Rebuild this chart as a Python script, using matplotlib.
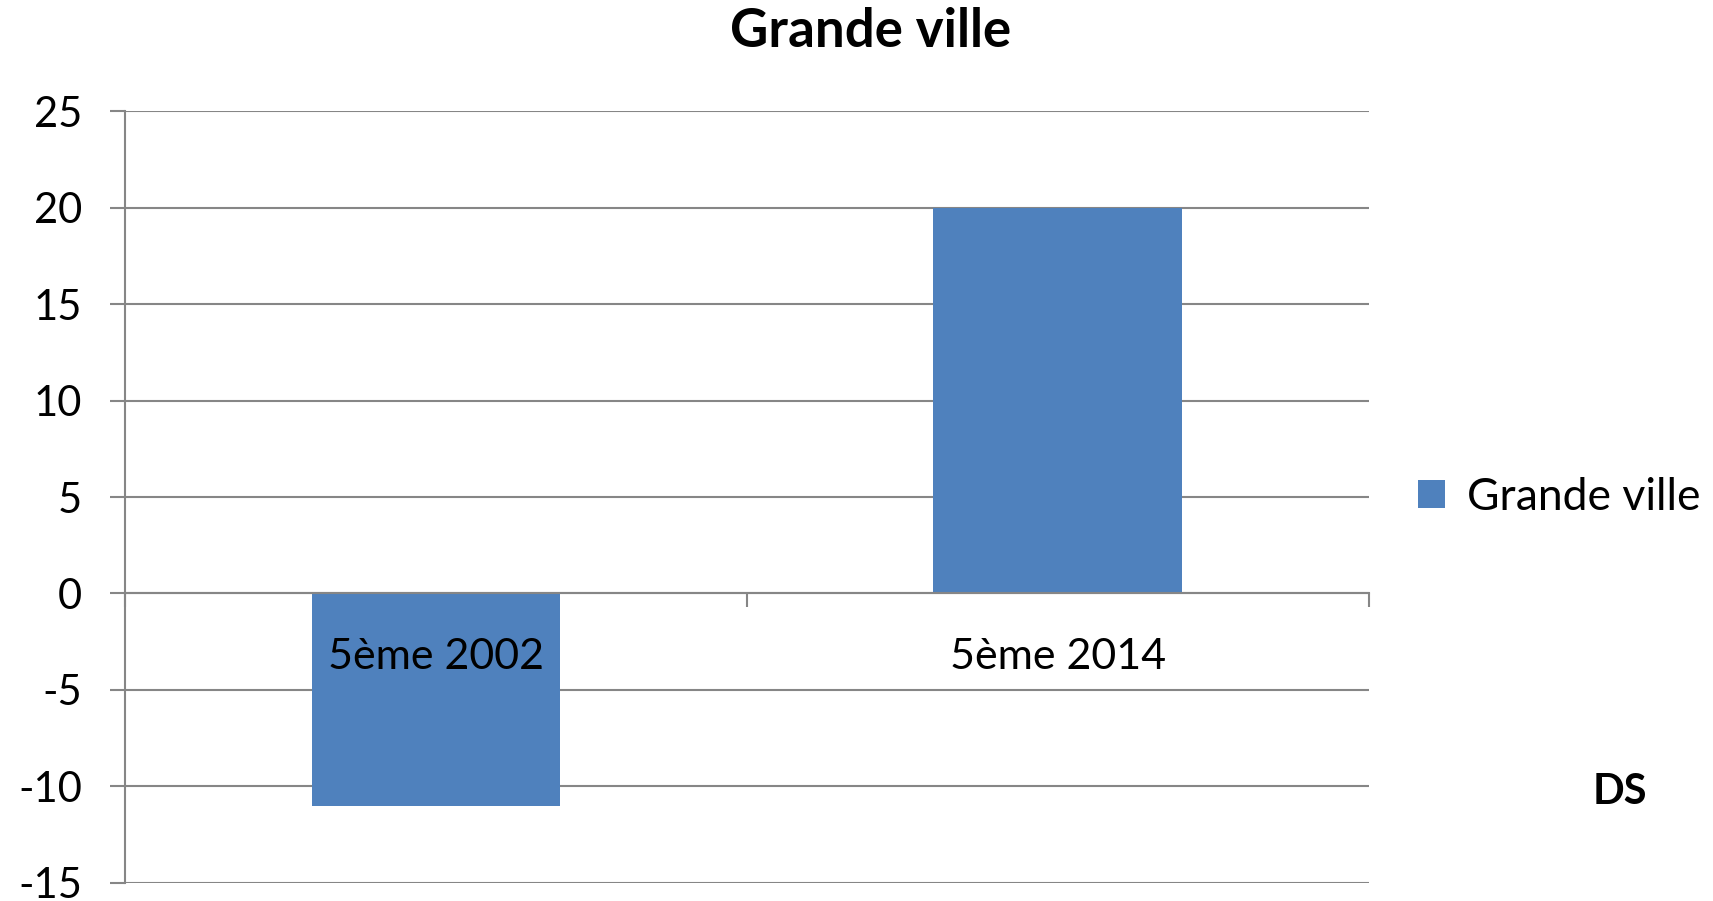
import numpy as np
import matplotlib.pyplot as plt

categories = ['5ème 2002', '5ème 2014']
values = [-11, 20]
series_name = 'Grande ville'
yticks = [-15, -10, -5, 0, 5, 10, 15, 20, 25]

plt.rcParams['font.family'] = ['Lato', 'DejaVu Sans']
grey = '#868686'
blue = '#4F81BD'

fig = plt.figure(figsize=(17.13, 9.01), dpi=100)
ax = fig.add_axes([0.073, 0.0203, 0.726, 0.8561])

x = np.arange(len(categories))
ax.bar(x, values, width=0.4, color=blue, label=series_name, zorder=1)

ax.set_xlim(-0.5, len(categories) - 0.5)
ax.set_ylim(-15, 25)
ax.set_yticks(yticks)
ax.set_yticklabels([str(v) for v in yticks])
ax.yaxis.grid(True, color=grey, linewidth=1.5)
ax.set_axisbelow(True)
# category labels are drawn over the bars
ax.xaxis.set_zorder(3)

# category axis sits on y = 0, tick marks at category boundaries
ax.spines['bottom'].set_position(('data', 0))
ax.spines['bottom'].set_color(grey)
ax.spines['bottom'].set_linewidth(1.5)
ax.spines['bottom'].set_zorder(3)
ax.spines['left'].set_color(grey)
ax.spines['left'].set_linewidth(1.5)
ax.spines['top'].set_visible(False)
ax.spines['right'].set_visible(False)

ax.set_xticks(x)
ax.set_xticklabels(categories)
ax.set_xticks(np.arange(len(categories) + 1) - 0.5, minor=True)
ax.tick_params(axis='x', which='major', length=0, pad=32, labelsize=31)
ax.tick_params(axis='x', which='minor', length=10, width=1.5, color=grey, direction='out')
ax.tick_params(axis='y', length=11, width=1.5, color=grey, labelsize=30, pad=20)

fig.text(0.508, 0.965, 'Grande ville', ha='center', va='center',
         fontsize=38, fontweight='bold')
fig.text(0.9457, 0.121, 'DS', ha='center', va='center',
         fontsize=30, fontweight='bold')

fig.legend(loc='center left', bbox_to_anchor=(0.828, 0.448), frameon=False,
           fontsize=32, handlelength=0.6, handleheight=0.6,
           handletextpad=0.5, borderpad=0, borderaxespad=0)

fig.savefig('out.png', dpi=100)
